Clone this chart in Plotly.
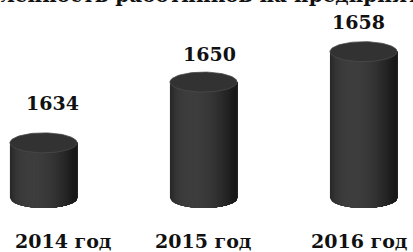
import math
import plotly.graph_objects as go

# ---- data ----
categories = ["2014 год", "2015 год", "2016 год"]
values = [1634, 1650, 1658]
value_labels = ["1634", "1650", "1658"]
title_text = "Средняя численность работников на предприятиях области"

# ---- layout constants ----
W, H = 413, 252
M_B = 40
Y_RANGE = [1615.8, 1671.6]
X_RANGE = [-0.272, 2.309]
BASE = 1619.5          # value at the bottom of the cylinders
HALF_W = 0.21          # half width of cylinder in x units
PLOT_H = H - M_B
PX_PER_Y = PLOT_H / (Y_RANGE[1] - Y_RANGE[0])
ELL_B = 10 / PX_PER_Y  # ellipse semi-minor axis (y units)
N_STRIPS = 30
FONT = "DejaVu Serif"
LABEL_RISE = [40, 28, 30]
LABEL_DX = [9, 6, -5]
CAT_DX = [20, 0, -4]

fig = go.Figure()


def shade(u):
    theta = math.asin(max(-1.0, min(1.0, u)))
    c = max(0.0, math.cos(theta + 0.35))
    g = int(24 + 38 * c ** 1.4)
    return f"rgb({g},{g},{g})"


for i, v in enumerate(values):
    cx = i
    # body: overlapping strips, each covering from its left edge to the right side
    for k in range(N_STRIPS):
        u0 = -1 + 2 * k / N_STRIPS
        um = -1 + 2 * (k + 0.5) / N_STRIPS
        xs = [cx + u0 * HALF_W, cx + HALF_W]
        ys = [v, v]
        m = 40
        for j in range(m + 1):
            u = 1 + (u0 - 1) * j / m
            xs.append(cx + u * HALF_W)
            ys.append(BASE - ELL_B * math.sqrt(max(0.0, 1 - u * u)))
        col = shade(um)
        fig.add_trace(go.Scatter(x=xs, y=ys, fill="toself", fillcolor=col,
                                 mode="none", hoverinfo="skip", showlegend=False))
    # top face
    n = 80
    ex = [cx + HALF_W * math.cos(2 * math.pi * t / n) for t in range(n + 1)]
    ey = [v + ELL_B * math.sin(2 * math.pi * t / n) for t in range(n + 1)]
    fig.add_trace(go.Scatter(x=ex, y=ey, fill="toself", fillcolor="rgb(50,50,50)",
                             mode="lines", line=dict(color="rgb(74,74,74)", width=0.8),
                             hoverinfo="skip", showlegend=False))
    fig.add_annotation(x=cx, y=v, text=value_labels[i], showarrow=False,
                       yshift=LABEL_RISE[i], xshift=LABEL_DX[i],
                       yanchor="middle",
                       font=dict(family=FONT, size=19, color="#111111", weight="bold"))
    fig.add_annotation(x=cx, y=0, yref="paper", text=categories[i], showarrow=False,
                       yanchor="middle", yshift=-29, xshift=CAT_DX[i],
                       font=dict(family=FONT, size=19, color="#111111", weight="bold"))

fig.add_annotation(x=0.5, y=1, xref="paper", yref="paper", text=title_text,
                   showarrow=False, yanchor="bottom", yshift=-9,
                   font=dict(family=FONT, size=20, color="#111111", weight="bold"))

fig.update_layout(
    width=W, height=H,
    margin=dict(l=0, r=0, t=0, b=M_B),
    paper_bgcolor="white", plot_bgcolor="white",
    xaxis=dict(range=X_RANGE, visible=False, fixedrange=True),
    yaxis=dict(range=Y_RANGE, visible=False, fixedrange=True),
    showlegend=False,
)

fig.write_html("out.html", config={"displayModeBar": False},
               post_script="document.body.style.margin='0';")
